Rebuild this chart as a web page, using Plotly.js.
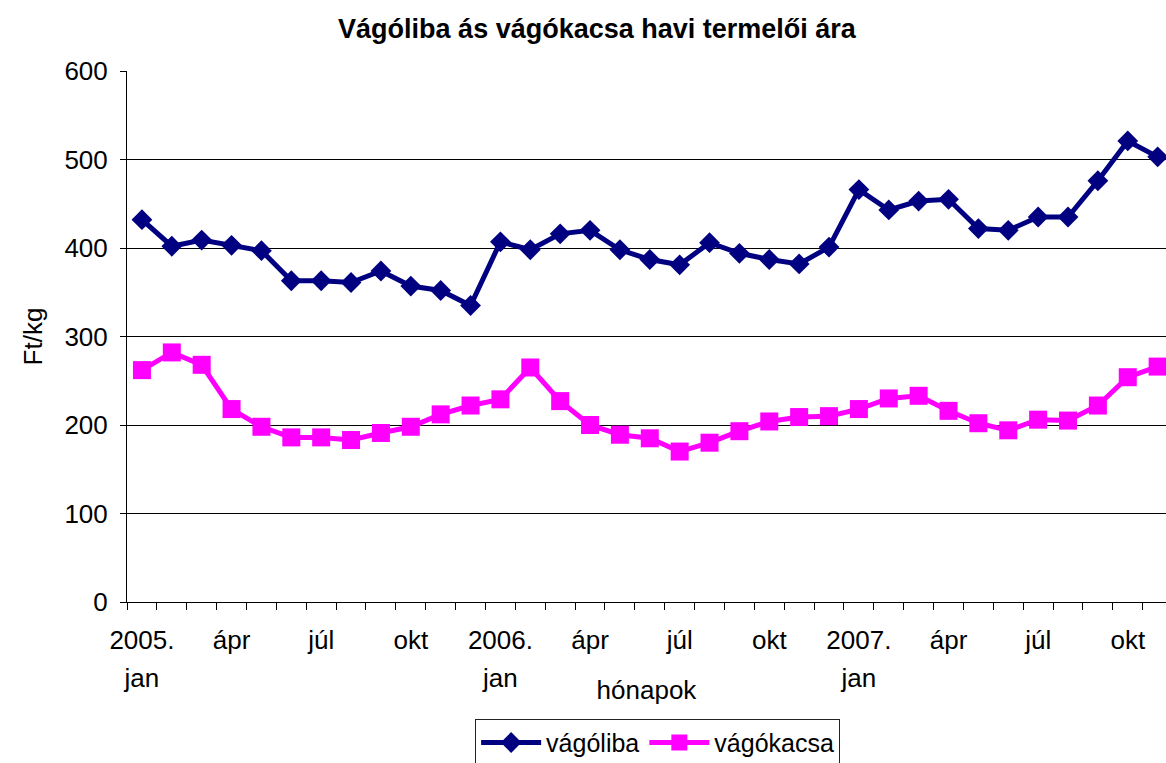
<!DOCTYPE html>
<html>
<head>
<meta charset="utf-8">
<script src="https://cdn.plot.ly/plotly-3.0.1.min.js"></script>
<style>
html,body{margin:0;padding:0;background:#fff;}
#chart{width:1166px;height:763px;}
</style>
</head>
<body>
<div id="chart"></div>
<script>
const months = [
  "2005. jan","2005. feb","2005. már","2005. ápr","2005. máj","2005. jún","2005. júl","2005. aug","2005. szept","2005. okt","2005. nov","2005. dec",
  "2006. jan","2006. feb","2006. már","2006. ápr","2006. máj","2006. jún","2006. júl","2006. aug","2006. szept","2006. okt","2006. nov","2006. dec",
  "2007. jan","2007. feb","2007. már","2007. ápr","2007. máj","2007. jún","2007. júl","2007. aug","2007. szept","2007. okt","2007. nov"
];
const vagoliba = [432,402,409,403,397,363,363,361,374,357,352,335,
                  407,398,416,420,398,387,381,406,394,387,382,401,
                  466,443,453,455,422,420,435,435,476,521,503];
const vagokacsa = [262,282,268,218,198,186,186,183,191,198,212,222,
                   229,265,227,200,189,185,170,180,193,204,209,210,
                   218,230,233,216,202,194,206,205,222,254,266];
const tickIdx = [0,3,6,9,12,15,18,21,24,27,30,33];
const tickTop = ["2005.","ápr","júl","okt","2006.","ápr","júl","okt","2007.","ápr","júl","okt"];
const janIdx = [0,12,24];
const janText = ["jan","jan","jan"];

const xIdx = months.map((m,i)=>i);
const font = "Liberation Sans, Arial, sans-serif";

const traces = [
  {x:xIdx, y:vagoliba, name:"vágóliba", type:"scatter", mode:"lines+markers",
   text: months, hovertemplate:"%{text}: %{y}<extra>vágóliba</extra>",
   line:{color:"#000080", width:5}, marker:{symbol:"diamond", size:16, color:"#000080"}},
  {x:xIdx, y:vagokacsa, name:"vágókacsa", type:"scatter", mode:"lines+markers",
   text: months, hovertemplate:"%{text}: %{y}<extra>vágókacsa</extra>",
   line:{color:"#FF00FF", width:5}, marker:{symbol:"square", size:18, color:"#FF00FF"}},
  {x:[0], y:[null], xaxis:"x2", showlegend:false, hoverinfo:"skip", type:"scatter"}
];

const xr = [-0.5, 34.28];
const layout = {
  width:1166, height:763,
  paper_bgcolor:"#fff", plot_bgcolor:"#fff",
  margin:{l:127, r:0, t:71, b:161, autoexpand:false},
  font:{family:font, color:"#000", size:26},
  title:{text:"<b>Vágóliba ás vágókacsa havi termelői ára</b>", x:0.512, xanchor:"center", y:0.962, yanchor:"middle",
         font:{family:font, size:27, color:"#000"}},
  showlegend:true,
  legend:{orientation:"h", xref:"container", yref:"container", x:0.564, xanchor:"center", y:0.058, yanchor:"top",
          bordercolor:"#222", borderwidth:1, font:{size:25, family:font}, tracegroupgap:0, itemwidth:60},
  xaxis:{range:xr, type:"linear", tickvals:tickIdx, ticktext:tickTop, ticks:"",
         showgrid:false, zeroline:false, showline:true, linecolor:"#000", linewidth:1,
         ticklabelstandoff:15, tickfont:{size:26},
         minor:{tick0:-0.5, dtick:1, ticks:"outside", ticklen:7, tickcolor:"#000", showgrid:false},
         title:{text:"hónapok", font:{size:26}, standoff:26}},
  xaxis2:{range:xr, type:"linear", overlaying:"x", anchor:"y", side:"bottom", tickvals:janIdx, ticktext:janText,
          ticks:"", showgrid:false, zeroline:false, showline:false, ticklabelstandoff:58, tickfont:{size:26}},
  yaxis:{range:[0,600], tickvals:[0,100,200,300,400,500,600], ticks:"outside", ticklen:6, tickcolor:"#000",
         showgrid:true, gridcolor:"#000", gridwidth:1, zeroline:false, showline:true, linecolor:"#000", linewidth:1,
         tickfont:{size:26}, ticklabelstandoff:7,
         title:{text:"Ft/kg", font:{size:26}, standoff:14}}
};
Plotly.newPlot("chart", traces, layout, {displayModeBar:false, staticPlot:false});
</script>
</body>
</html>
